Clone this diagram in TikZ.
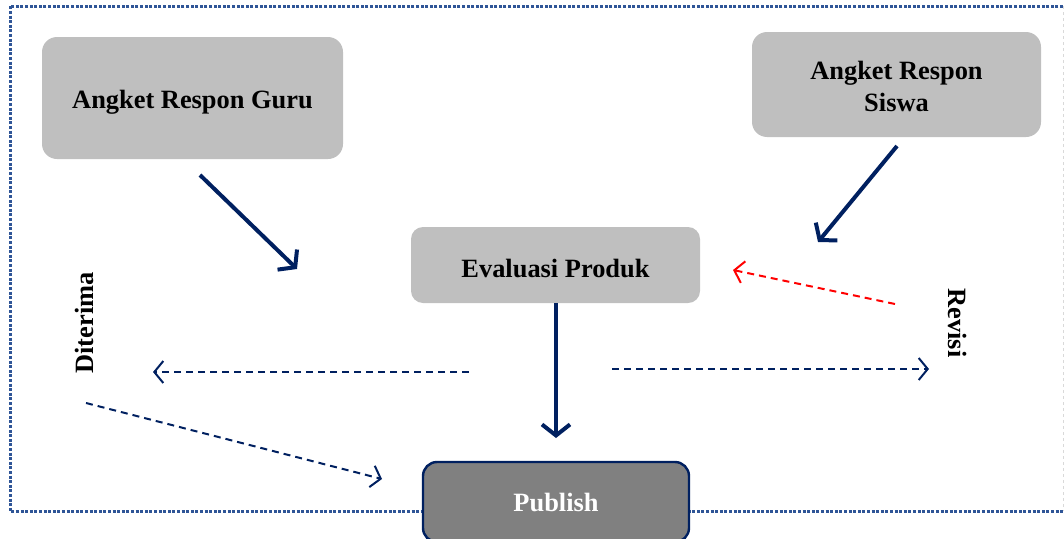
\documentclass[tikz,border=0pt]{standalone}
\usepackage{fontspec}
\setmainfont{Liberation Serif}
\usetikzlibrary{arrows.meta}
\definecolor{navy}{HTML}{002060}
\definecolor{framecol}{HTML}{2F5597}
\definecolor{boxgray}{HTML}{BFBFBF}
\definecolor{darkgray}{HTML}{808080}
\newcommand{\dropby}[2]{\raisebox{-#1}[\height][\depth]{#2}}
\begin{document}
\begin{tikzpicture}[x=1pt,y=-1pt,
  every node/.style={font=\fontsize{26.4}{30}\selectfont\bfseries, align=center, inner sep=0pt},
  graybox/.style={fill=boxgray, rounded corners=15pt},
  pubbox/.style={fill=darkgray, draw=navy, line width=2.4pt, rounded corners=14pt, text=white},
  flow/.style={draw=navy, line width=4pt, -{Straight Barb[length=11pt,width=28pt,line width=4pt]}},
  dflow/.style={draw=navy, line width=2pt, dash pattern=on 7pt off 5pt,
    -{Straight Barb[length=9pt,width=22pt,line width=2pt]}},
  rflow/.style={draw=red, line width=2pt, dash pattern=on 7pt off 5pt,
    -{Straight Barb[length=9pt,width=22pt,line width=2pt]}},
  vlabel/.style={font=\fontsize{26.4}{30}\selectfont\bfseries}
]
\useasboundingbox (0,0) rectangle (1064,538);

% outer frame
\draw[framecol, line width=3pt, dash pattern=on 3pt off 1.6pt]
  (1063,6) -- (10,6) -- (10,511) -- (1063,511);
\draw[gray!30, line width=1pt, dash pattern=on 3pt off 3pt] (1063,6) -- (1063,511);

% boxes
\node[graybox, minimum width=301pt, minimum height=122pt] (guru) at (192.5,98) {\dropby{4pt}{Angket Respon Guru}};
\node[graybox, minimum width=289pt, minimum height=105pt] (siswa) at (896.5,84.5) {\dropby{5pt}{\begin{tabular}{@{}c@{}}Angket Respon\\[2pt]Siswa\end{tabular}}};
\node[graybox, minimum width=289pt, minimum height=76pt, rounded corners=12pt] (eval) at (555.5,265) {\dropby{3pt}{Evaluasi Produk}};
\node[pubbox, minimum width=266pt, minimum height=80pt] (pub) at (556,502) {Publish};

% labels
\node[vlabel, rotate=90] (diterima) at (84,323) {Diterima};
\node[vlabel, rotate=-90] (revisi) at (958,323) {Revisi};

% arrow end points
\coordinate (g1) at (200,175);  \coordinate (g2) at (297,269);
\coordinate (s1) at (897,146);  \coordinate (s2) at (818,242);
\coordinate (e1) at (556,303);  \coordinate (e2) at (556,438);
\coordinate (l1) at (469,372);  \coordinate (l2) at (153,372);
\coordinate (r1) at (612,369);  \coordinate (r2) at (929,369);
\coordinate (v1) at (895,304);  \coordinate (v2) at (733,270);
\coordinate (d1) at (86,403);   \coordinate (d2) at (382,479);

% connectors
\draw[flow] (g1) -- (g2);
\draw[flow] (s1) -- (s2);
\draw[flow] (e1) -- (e2);
\draw[dflow] (l1) -- (l2);
\draw[dflow] (r1) -- (r2);
\draw[rflow] (v1) -- (v2);
\draw[dflow] (d1) -- (d2);
\end{tikzpicture}
\end{document}
